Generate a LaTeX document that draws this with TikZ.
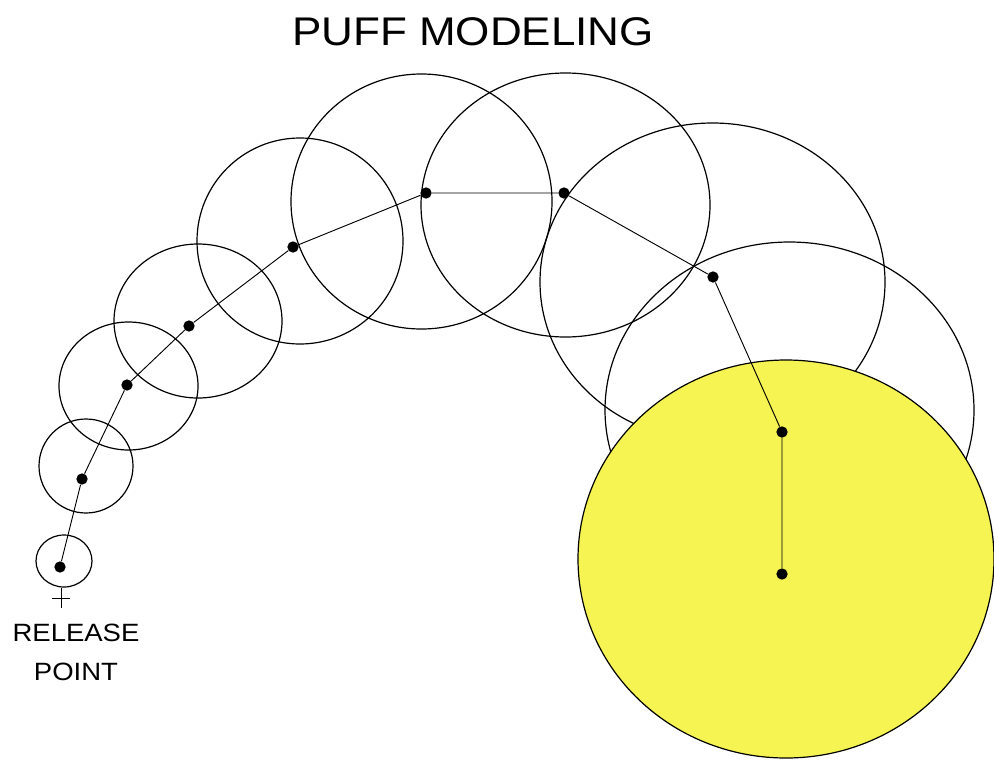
\documentclass[tikz,border=0pt]{standalone}
\usepackage{fontspec}
\setmainfont{Liberation Sans}
\usepackage{tikz}
\definecolor{puffyellow}{RGB}{245,244,82}

\begin{document}
\begin{tikzpicture}[x=0.75pt,y=-0.75pt,
                    puff/.style={draw,line width=0.9pt},
                    centre/.style={circle,fill,inner sep=0pt,minimum size=8.5pt},
                    caption/.style={align=center,xscale=1.1,
                      font=\fontsize{18.75}{29.25}\selectfont}]
  \useasboundingbox (0,0) rectangle (994,760);
  % puffs along the track
  \draw[puff] (64,561) ellipse [x radius=28,y radius=26];
  \draw[puff] (86,466) ellipse [x radius=47,y radius=47];
  \draw[puff] (128.5,386) ellipse [x radius=69.5,y radius=64];
  \draw[puff] (198,321) ellipse [x radius=84,y radius=77];
  \draw[puff] (300,241) ellipse [x radius=103,y radius=103];
  \draw[puff] (421.5,201.5) ellipse [x radius=130.5,y radius=127.5];
  \draw[puff] (565.5,205) ellipse [x radius=144.5,y radius=132];
  \draw[puff] (712.5,282) ellipse [x radius=172.5,y radius=159];
  \draw[puff] (789.5,410) ellipse [x radius=184.5,y radius=168];
  \filldraw[puff,fill=puffyellow] (786,559) ellipse [x radius=208,y radius=199];
  % puff centres
  \node[centre] (p1) at (60,567) {};
  \node[centre] (p2) at (82,479) {};
  \node[centre] (p3) at (127,385) {};
  \node[centre] (p4) at (189,326) {};
  \node[centre] (p5) at (293,247) {};
  \node[centre] (p6) at (426,193) {};
  \node[centre] (p7) at (564,193) {};
  \node[centre] (p8) at (713,277) {};
  \node[centre] (p9) at (782,432) {};
  \node[centre] (p10) at (782,574) {};
  \draw[line width=0.7pt] (p1)--(p2)--(p3)--(p4)--(p5)--(p6)--(p7)--(p8)--(p9)--(p10);
  % release mark
  \draw[line width=0.7pt] (61,588)--(61,608) (52,598)--(70,598);
  \node[caption] (release) at (76,652) {RELEASE\\POINT};
  \node[xscale=1.1,font=\fontsize{30}{36}\selectfont] (title) at (473,32) {PUFF MODELING};
\end{tikzpicture}
\end{document}
